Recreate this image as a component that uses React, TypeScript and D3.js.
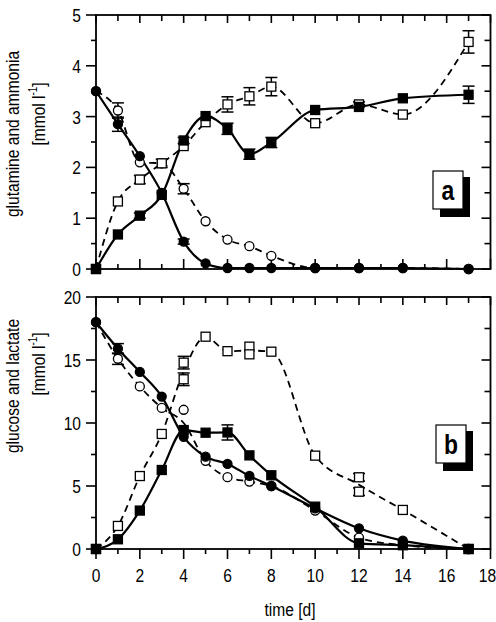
import React from "react";
import { scaleLinear, line, curveMonotoneX, range } from "d3";

// sampling days (both panels)
const days = [0, 1, 2, 3, 4, 5, 6, 7, 8, 10, 12, 14, 17];

// panel a: glutamine (circles) and ammonia (squares), filled = solid line, open = dashed
const glnFilled = [3.5, 2.85, 2.22, 1.5, 0.54, 0.11, 0.02, 0.02, 0.02, 0.02, 0.02, 0.02, 0.0];
const glnFilledErr = [0, 0.14, 0, 0, 0.05, 0, 0, 0, 0, 0, 0, 0, 0];
const nh4Filled = [0, 0.68, 1.05, 1.46, 2.53, 3.01, 2.76, 2.26, 2.49, 3.13, 3.19, 3.36, 3.43];
const nh4FilledErr = [0, 0, 0.05, 0, 0.06, 0, 0.11, 0.1, 0.1, 0, 0, 0, 0.17];
const glnOpen = [3.5, 3.12, 2.1, 2.08, 1.58, 0.94, 0.58, 0.45, 0.26, 0.02, 0.02, 0.02, 0];
const glnOpenErr = [0, 0.15, 0, 0.08, 0.1, 0, 0, 0, 0, 0, 0, 0, 0];
const nh4Open = [0, 1.33, 1.76, 2.08, 2.42, 2.89, 3.24, 3.4, 3.59, 2.87, 3.24, 3.04, 4.47];
const nh4OpenErr = [0, 0, 0.08, 0, 0, 0, 0.15, 0.17, 0.18, 0, 0.05, 0, 0.22];

// panel b: glucose (circles) and lactate (squares)
const glcFilled = [18, 15.9, 14.05, 12.1, 8.9, 7.33, 6.75, 5.8, 5.0, 3.23, 1.64, 0.66, 0];
const glcFilledErr = [0, 0.4, 0, 0, 0, 0, 0, 0, 0, 0, 0, 0, 0];
const glcOpen = [18, 15.1, 12.9, 11.2, 10.0, 7.0, 5.7, 5.35, 5.0, 3.05, 0.9, 0.3, 0];
const glcOpenErr = [0, 0.45, 0, 0, 0, 0, 0, 0, 0, 0, 0, 0, 0];
const lacFilled = [0, 0.77, 3.05, 6.27, 9.44, 9.23, 9.25, 7.43, 5.85, 3.36, 0.45, 0.3, 0];
const lacFilledErr = [0, 0, 0, 0, 0, 0, 0.6, 0, 0, 0, 0, 0, 0];
const lacOpen = [0, 1.83, 5.79, 9.13, 14.1, 16.85, 15.7, 15.75, 15.66, 7.41, 5.1, 3.1, 0];
const lacOpenErr = [0, 0, 0, 0, 0.5, 0, 0, 0, 0, 0, 0.3, 0, 0];

// replicate markers drawn in place of the mean
const glcOpenRepDays = [4];
const glcOpenRepVals = [11.05];
const lacOpenRepDays = [4, 4, 7, 7, 12, 12];
const lacOpenRepVals = [13.47, 14.79, 16.06, 15.45, 5.69, 4.55];

const yTicksA = [0, 1, 2, 3, 4, 5];
const yTicksB = [0, 5, 10, 15, 20];
const xTickLabels = [0, 2, 4, 6, 8, 10, 12, 14, 16, 18];

const FONT = "'Liberation Sans', Arial, sans-serif";
const NARROW = 0.82; // fake Helvetica Narrow by squeezing
const X0 = 96;
const X1 = 490.5;

const x = scaleLinear().domain([0, 18]).range([X0, X1]);

type Series = {
  values: number[];
  err: number[];
  shape: "circle" | "square";
  filled: boolean;
  repDays?: number[];
  repVals?: number[];
};

// narrow text helper
function NText({ x, y, anchor = "middle", size = 19, weight = "normal", rotate = false, children }: any) {
  return (
    <text
      transform={`translate(${x},${y})${rotate ? " rotate(-90)" : ""} scale(${NARROW},1)`}
      textAnchor={anchor}
      fontFamily={FONT}
      fontSize={size}
      fontWeight={weight}
    >
      {children}
    </text>
  );
}

function Marker({ cx, cy, shape, filled }) {
  const fill = filled ? "#000" : "#fff";
  if (shape === "circle")
    return <circle cx={cx} cy={cy} r={4.5} fill={fill} stroke="#000" strokeWidth={1.3} />;
  return <rect x={cx - 4.5} y={cy - 4.5} width={9} height={9} fill={fill} stroke="#000" strokeWidth={1.3} />;
}

function Panel({ top, bottom, yMax, yTicks, minorStep, series, label, labelBox, yLabel, yLabelY, unitY, isBottom }) {
  const y = scaleLinear().domain([0, yMax]).range([bottom, top]);
  const minor = range(0, yMax + 1e-9, minorStep);
  const dayTicks = range(0, 19, 1);
  const lineGen = line<number>()
    .x((d, i) => x(days[i]))
    .y(d => y(d))
    .curve(curveMonotoneX);

  return (
    <g>
      {/* curves */}
      {series.map((s, k) => (
        <path
          key={"l" + k}
          d={lineGen(s.values)}
          fill="none"
          stroke="#000"
          strokeWidth={s.filled ? 2.2 : 1.8}
          strokeDasharray={s.filled ? undefined : "7,5"}
        />
      ))}

      {/* frame */}
      <rect x={X0} y={top} width={X1 - X0} height={bottom - top} fill="none" stroke="#000" strokeWidth={1.8} />

      {/* left ticks (outward) + right ticks (inward) */}
      {minor.map(v => {
        const major = yTicks.includes(v);
        return (
          <g key={"yt" + v}>
            <line x1={X0 - (major ? 10 : 5)} x2={X0} y1={y(v)} y2={y(v)} stroke="#000" strokeWidth={1.6} />
            <line x1={X1 - (major ? 9 : 6)} x2={X1} y1={y(v)} y2={y(v)} stroke="#000" strokeWidth={1.6} />
          </g>
        );
      })}
      {yTicks.map(v => (
        <NText key={"yl" + v} x={X0 - 15} y={y(v) + 7} anchor="end">
          {v}
        </NText>
      ))}

      {/* top edge ticks (inward) and bottom edge ticks */}
      {dayTicks.map(d => {
        const major = d % 2 === 0;
        return (
          <g key={"xt" + d}>
            <line x1={x(d)} x2={x(d)} y1={top} y2={top + (major ? 8 : 6)} stroke="#000" strokeWidth={1.6} />
            {isBottom ? (
              <line x1={x(d)} x2={x(d)} y1={bottom} y2={bottom + (major ? 10 : 5)} stroke="#000" strokeWidth={1.6} />
            ) : (
              <line x1={x(d)} x2={x(d)} y1={bottom} y2={bottom - (major ? 10 : 5)} stroke="#000" strokeWidth={1.6} />
            )}
          </g>
        );
      })}

      {/* error bars */}
      {series.map((s, k) =>
        s.values.map((v, i) => {
          const e = s.err[i];
          if (!e) return null;
          const vals = s.repDays && s.repDays.includes(days[i])
            ? s.repVals.filter((_, j) => s.repDays[j] === days[i])
            : [v];
          return vals.map((vv, j) => (
            <g key={`e${k}-${i}-${j}`} stroke="#000" strokeWidth={1.5}>
              <line x1={x(days[i])} x2={x(days[i])} y1={y(vv - e)} y2={y(vv + e)} />
              <line x1={x(days[i]) - 6} x2={x(days[i]) + 6} y1={y(vv - e)} y2={y(vv - e)} />
              <line x1={x(days[i]) - 6} x2={x(days[i]) + 6} y1={y(vv + e)} y2={y(vv + e)} />
            </g>
          ));
        })
      )}

      {/* markers */}
      {series.map((s, k) =>
        s.values.map((v, i) => {
          if (s.repDays && s.repDays.includes(days[i])) {
            return s.repVals
              .filter((_, j) => s.repDays[j] === days[i])
              .map((vv, j) => (
                <Marker key={`m${k}-${i}-${j}`} cx={x(days[i])} cy={y(vv)} shape={s.shape} filled={s.filled} />
              ));
          }
          return <Marker key={`m${k}-${i}`} cx={x(days[i])} cy={y(v)} shape={s.shape} filled={s.filled} />;
        })
      )}

      {/* panel letter box with shadow */}
      <rect x={labelBox.x + 7} y={labelBox.y + 6} width={30} height={40} fill="#000" />
      <rect x={labelBox.x} y={labelBox.y} width={30} height={38} fill="#fff" stroke="#000" strokeWidth={1.2} />
      <NText x={labelBox.x + 15} y={labelBox.y + 29} size={28} weight="bold">
        {label}
      </NText>

      {/* y label */}
      <NText x={19} y={yLabelY} rotate>
        {yLabel}
      </NText>
      <NText x={45} y={unitY} rotate>
        [mmol l<tspan fontSize={12} dy={-8}>-1</tspan>
        <tspan dy={8}>]</tspan>
      </NText>

      {isBottom &&
        xTickLabels.map(d => (
          <NText key={"xl" + d} x={d === 18 ? x(d) - 3 : x(d)} y={582}>
            {d}
          </NText>
        ))}
    </g>
  );
}

export default function App() {
  const seriesA: Series[] = [
    { values: glnOpen, err: glnOpenErr, shape: "circle", filled: false },
    { values: nh4Open, err: nh4OpenErr, shape: "square", filled: false },
    { values: nh4Filled, err: nh4FilledErr, shape: "square", filled: true },
    { values: glnFilled, err: glnFilledErr, shape: "circle", filled: true },
  ];
  const seriesB: Series[] = [
    { values: glcOpen, err: glcOpenErr, shape: "circle", filled: false, repDays: glcOpenRepDays, repVals: glcOpenRepVals },
    { values: lacOpen, err: lacOpenErr, shape: "square", filled: false, repDays: lacOpenRepDays, repVals: lacOpenRepVals },
    { values: lacFilled, err: lacFilledErr, shape: "square", filled: true },
    { values: glcFilled, err: glcFilledErr, shape: "circle", filled: true },
  ];

  return (
    <svg width={496} height={622} style={{ position: "absolute", left: 0, top: 0, background: "#fff" }}>
      <Panel
        top={15}
        bottom={269}
        yMax={5}
        yTicks={yTicksA}
        minorStep={0.5}
        series={seriesA}
        label="a"
        labelBox={{ x: 433, y: 171 }}
        yLabel="glutamine and ammonia"
        yLabelY={134}
        unitY={114}
        isBottom={false}
      />
      <Panel
        top={297}
        bottom={549}
        yMax={20}
        yTicks={yTicksB}
        minorStep={2.5}
        series={seriesB}
        label="b"
        labelBox={{ x: 436, y: 425 }}
        yLabel="glucose and lactate"
        yLabelY={386}
        unitY={364}
        isBottom={true}
      />
      <NText x={290} y={616}>
        time [d]
      </NText>
    </svg>
  );
}
